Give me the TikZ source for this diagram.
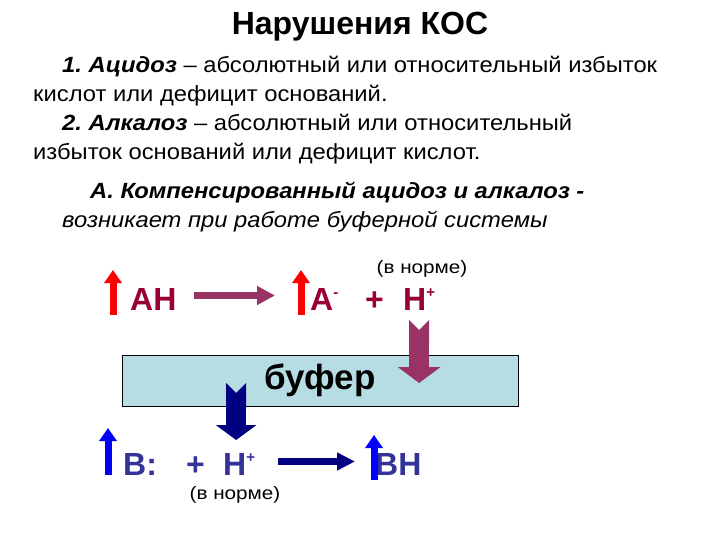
\documentclass[tikz,border=0pt]{standalone}
\usepackage{fontspec}
\setmainfont{Liberation Sans}
\newfontfamily\widefont[FakeStretch=1.08]{Liberation Sans}
\newfontfamily\widerfont[FakeStretch=1.15]{Liberation Sans}
\usetikzlibrary{arrows.meta,positioning}
\definecolor{acidred}{RGB}{153,0,51}
\definecolor{acidpurple}{RGB}{153,51,102}
\definecolor{basenavy}{RGB}{0,0,128}
\definecolor{baseblue}{RGB}{51,51,153}
\definecolor{bufferfill}{RGB}{183,221,228}
\newcommand{\chargeup}[1]{\raisebox{13pt}{\fontsize{15}{15}\selectfont #1}}
\frenchspacing
\begin{document}
\begin{tikzpicture}[x=1pt, y=-1pt,
  txt/.style={anchor=base west, inner sep=0pt, font=\widefont\fontsize{22}{26}\selectfont},
  ion/.style={anchor=base west, inner sep=0pt, font=\fontsize{32}{38}\selectfont\bfseries},
  norm/.style={inner sep=0pt, font=\widerfont\fontsize{18}{21}\selectfont},
  redup/.style={draw=red, line width=7pt, -{Triangle[width=17pt,length=13pt]}},
  blueup/.style={draw=blue, line width=7pt, -{Triangle[width=17pt,length=13pt]}},
  acidflow/.style={draw=acidpurple, line width=7.5pt, -{Triangle[width=18pt,length=18pt]}},
  baseflow/.style={draw=basenavy, line width=7.5pt, -{Triangle[width=17pt,length=18pt]}},
  acidblock/.style={draw=acidpurple, line width=20pt, {Triangle Cap[reversed]}-{Triangle[width=42pt,length=16pt]}},
  baseblock/.style={draw=basenavy, line width=20pt, {Triangle Cap[reversed]}-{Triangle[width=40pt,length=15pt]}}]
\useasboundingbox (0,0) rectangle (720,540);

% heading and definitions
\node[font=\fontsize{32}{38}\selectfont\bfseries] (title) at (360,27) {Нарушения КОС};
\node[txt] (acid) at (62,73) {\textbf{\textit{1. Ацидоз}} – абсолютный или относительный избыток};
\node[txt] (acid2) at (33,102) {кислот или дефицит оснований.};
\node[txt] (alk) at (62,131) {\textbf{\textit{2. Алкалоз}} – абсолютный или относительный};
\node[txt] (alk2) at (33,160) {избыток оснований или дефицит кислот.};
\node[txt] (comp) at (90,199) {\textbf{\textit{А. Компенсированный ацидоз и алкалоз -}}};
\node[txt] (comp2) at (62,228) {\textit{возникает при работе буферной системы}};

% acid side
\node[ion, text=acidred] (ah) at (130,310) {AH};
\node[ion, text=acidred] (anion) at (310,310) {A\chargeup{-}};
\node[ion, text=acidred] (plusA) at (365,310) {+};
\node[ion, text=acidred] (hplusA) at (403,310) {H\chargeup{+}};
\node[norm] (normA) at (422,269) {(в норме)};

% buffer
\node[draw, fill=bufferfill, minimum width=396pt, minimum height=51pt, inner sep=0pt,
  font=\fontsize{35}{40}\selectfont\bfseries] (buffer) at (320,380.5) {буфер};

% base side
\node[ion, text=baseblue] (base) at (123,475) {B:};
\node[ion, text=baseblue] (plusB) at (186,475) {+};
\node[ion, text=baseblue] (hplusB) at (223,475) {H\chargeup{+}};
\node[ion, text=baseblue] (bh) at (375,475) {BH};
\node[norm] (normB) at (235,495) {(в норме)};

\draw[redup] ([xshift=-17pt,yshift=-5pt]ah.base west) -- ++(0,-45);
\draw[redup] ([xshift=-9pt,yshift=-5pt]anion.base west) -- ++(0,-45);
\draw[acidflow] ([xshift=17pt,yshift=14.5pt]ah.base east) -- ([xshift=-35pt,yshift=14.5pt]anion.base west);
\draw[acidblock] ([yshift=-10pt]hplusA.base) -- ([yshift=-2.5pt]hplusA.base |- buffer.center);
\draw[baseblock] ([xshift=-3pt,yshift=-2.5pt]hplusB.base |- buffer.center) -- ([xshift=-3pt,yshift=35pt]hplusB.base);
\draw[blueup] ([xshift=-15pt]base.base west) -- ++(0,-47);
\draw[baseflow] ([xshift=23pt,yshift=13.5pt]hplusB.base east) -- ([xshift=-20pt,yshift=13.5pt]bh.base west);
\draw[blueup] ([xshift=-1pt,yshift=-5pt]bh.base west) -- ++(0,-45);
\end{tikzpicture}
\end{document}
